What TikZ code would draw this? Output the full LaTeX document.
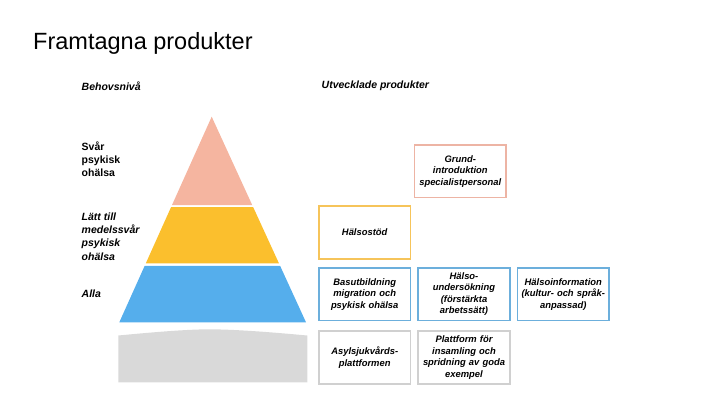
\documentclass[tikz,border=0pt]{standalone}
\usepackage{fontspec}
\setmainfont{Liberation Sans}
\usetikzlibrary{calc,positioning}
\definecolor{pinklevel}{HTML}{F5B5A0}
\definecolor{yellowlevel}{HTML}{FBBF2D}
\definecolor{bluelevel}{HTML}{55AEEC}
\definecolor{graylevel}{HTML}{D9D9D9}
\definecolor{pinkline}{HTML}{EDB4A4}
\definecolor{yellowline}{HTML}{F6C45A}
\definecolor{blueline}{HTML}{6CAFDC}
\definecolor{grayline}{HTML}{D0D0D0}
\tikzstyle{product}=[
    draw, line width=1.7pt, rectangle,
    minimum width=91.5pt, minimum height=52.5pt, inner sep=1pt,
    align=center, text width=89pt,
    font=\fontsize{9.4}{11.5}\selectfont\bfseries\itshape
]
\tikzstyle{level label}=[
    anchor=west, align=left, inner sep=0pt,
    font=\fontsize{10.5}{13.3}\selectfont\bfseries\itshape
]
\tikzstyle{upright label}=[
    level label, font=\fontsize{10.5}{13.3}\selectfont\bfseries
]
\begin{document}
\begin{tikzpicture}[x=1pt, y=-1pt, node distance=7.6pt and 6.1pt]
        \useasboundingbox (0,0) rectangle (720,405);

        \node[anchor=west, inner sep=0pt, font=\fontsize{23.5}{28}\selectfont] (title) at (33,43) {Framtagna produkter};

        % levels
        \node[level label] (levelhead) at (81.5,86.7) {Behovsniv\aa};
        \node[upright label] (severe) at (81.5,159.3) {Sv\aa r\\psykisk\\oh\"alsa};
        \node[level label] (moderate) at (81.5,236.3) {L\"att till\\medelssv\aa r\\psykisk\\oh\"alsa};
        \node[level label] (everyone) at (81.5,294) {Alla};

        \coordinate (top) at (211.7,116.7);
        \coordinate (bl) at (119.3,322.3);
        \coordinate (br) at (306,322.3);
        \fill[pinklevel] (top) -- ($(top)!0.43!(bl)$) -- ($(top)!0.43!(br)$) -- cycle;
        \fill[yellowlevel] ($(top)!0.44!(bl)$) -- ($(top)!0.713!(bl)$) -- ($(top)!0.713!(br)$) -- ($(top)!0.44!(br)$) -- cycle;
        \fill[bluelevel] ($(top)!0.725!(bl)$) -- (bl) -- (br) -- ($(top)!0.725!(br)$) -- cycle;
        \fill[graylevel] (118.3,335.5) .. controls (160,331.5) and (190,329.3) .. (210,329.3)
            .. controls (240,329.5) and (280,333) .. (307.3,335.5) -- (307.3,382.3) -- (118.3,382.3) -- cycle;

        % products
        \node[level label] (producthead) at (321.5,86) {Utvecklade produkter};
        \node[product, draw=blueline] (basutb) at (364.7,294.3) {Basutbildning\\migration och\\psykisk oh\"alsa};
        \node[product, draw=blueline, right=of basutb] (undersok) {H\"also-\\unders\"okning\\(f\"orst\"arkta\\arbetss\"att)};
        \node[product, draw=blueline, right=of undersok] (info) {H\"alsoinformation\\(kultur- och spr\aa k-\\anpassad)};
        \node[product, draw=yellowline, above=of basutb] (stod) {H\"alsost\"od};
        \node[product, draw=pinkline, above right=7.2pt and 2.4pt of stod] (grund) {Grund-\\introduktion\\specialistpersonal};
        \node[product, draw=grayline, below=8.9pt of basutb] (asyl) {Asylsjukv\aa rds-\\plattformen};
        \node[product, draw=grayline, right=of asyl] (plattform) {Plattform f\"or\\insamling och\\spridning av goda\\exempel};
\end{tikzpicture}
\end{document}
